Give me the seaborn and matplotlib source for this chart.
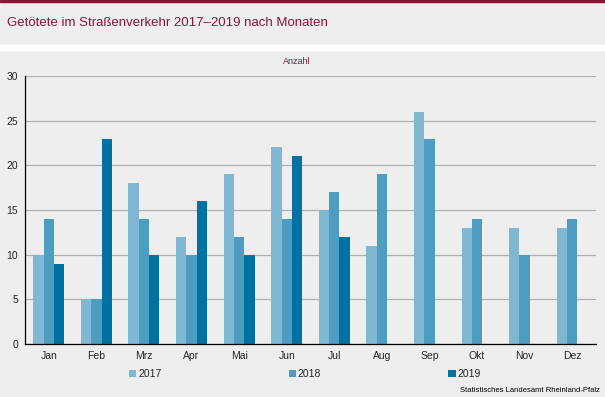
import numpy as np
import pandas as pd
import matplotlib
matplotlib.use("Agg")
from matplotlib import pyplot as plt
from matplotlib.patches import Rectangle
import seaborn as sns

months = ["Jan", "Feb", "Mrz", "Apr", "Mai", "Jun", "Jul", "Aug", "Sep", "Okt", "Nov", "Dez"]
years = ["2017", "2018", "2019"]
v2017 = [10, 5, 18, 12, 19, 22, 15, 11, 26, 13, 13, 13]
v2018 = [14, 5, 14, 10, 12, 14, 17, 19, 23, 14, 10, 14]
v2019 = [9, 23, 10, 16, 10, 21, 12, np.nan, np.nan, np.nan, np.nan, np.nan]

colors = ["#80b8d3", "#4d9dc1", "#0071a1"]
bg = "#edeeed"
red = "#8a1538"

df = pd.DataFrame({
    "Monat": months * 3,
    "Jahr": np.repeat(years, len(months)),
    "Anzahl": v2017 + v2018 + v2019,
})

sns.set_style("white")
plt.rcParams["font.family"] = ["Liberation Sans", "DejaVu Sans"]

fig = plt.figure(figsize=(6.05, 3.97), dpi=100)
fig.patch.set_facecolor(bg)
# top red line and white separator under title band
fig.patches.append(Rectangle((0, 1 - 2 / 397), 1, 2 / 397, transform=fig.transFigure,
                             color=red, zorder=0))
fig.patches.append(Rectangle((0, 1 - 50 / 397), 1, 5 / 397, transform=fig.transFigure,
                             color="white", zorder=0))

ax = fig.add_axes([25 / 605, 1 - 344 / 397, 571 / 605, 268 / 397])
ax.set_facecolor(bg)
sns.barplot(data=df, x="Monat", y="Anzahl", hue="Jahr", order=months, hue_order=years,
            palette=colors, width=0.65, saturation=1, gap=0, ax=ax, legend=True,
            linewidth=0)

ax.set_xlim(-0.5, 11.5)
ax.set_ylim(0, 30)
ax.set_yticks(range(0, 31, 5))
ax.yaxis.grid(True, color="#b0b0b0", linewidth=0.9)
ax.set_axisbelow(True)
for s in ["top", "right"]:
    ax.spines[s].set_visible(False)
ax.spines["left"].set_color("black")
ax.spines["bottom"].set_color("black")
ax.spines["left"].set_linewidth(0.9)
ax.spines["bottom"].set_linewidth(0.9)
ax.set_xlabel("")
ax.set_ylabel("")
ax.tick_params(axis="x", which="major", length=0, labelsize=7.5, pad=5)
ax.set_xticks(np.arange(-0.5, 12, 1), minor=True)
ax.tick_params(axis="x", which="minor", length=3, width=0.9, color="black", direction="out")
ax.tick_params(axis="y", length=3, width=0.9, color="black", direction="out", labelsize=7.5, pad=2)

handles, labels = ax.get_legend_handles_labels()
ax.get_legend().remove()
fig.legend(handles, labels, loc="center", bbox_to_anchor=(305 / 605, 1 - 374 / 397), ncol=3,
           frameon=False, fontsize=7.5, handlelength=0.7, handleheight=0.7,
           handletextpad=0.2, columnspacing=12.2)

fig.text(7 / 605, 1 - 23 / 397, "Getötete im Straßenverkehr 2017–2019 nach Monaten",
         color=red, fontsize=9.55, va="center", ha="left")
fig.text(297 / 605, 1 - 62 / 397, "Anzahl", color=red, fontsize=6.5, va="center", ha="center")
fig.text(600 / 605, 1 - 391 / 397, "Statistisches Landesamt Rheinland-Pfalz",
         color="black", fontsize=5.5, va="center", ha="right")

fig.savefig("out.png", dpi=100, facecolor=bg)
